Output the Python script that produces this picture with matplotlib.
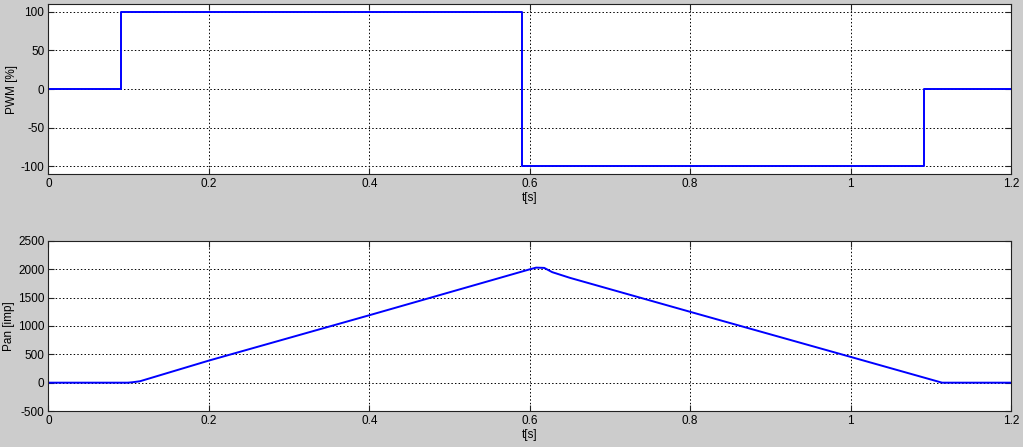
import numpy as np
import matplotlib.pyplot as plt

# PWM signal (step breakpoints)
t_pwm = [0.0, 0.09, 0.09, 0.59, 0.59, 1.092, 1.092, 1.2]
pwm = [0, 0, 100, 100, -100, -100, 0, 0]

# encoder position (breakpoints)
t_pan = [0.0, 0.099, 0.105, 0.114, 0.2, 0.4, 0.6, 0.608, 0.618, 0.628, 0.65, 0.8, 1.0, 1.114, 1.2]
pan = [0, 0, 8, 25, 390, 1190, 2000, 2030, 2025, 1950, 1850, 1250, 455, 0, 0]

plt.rcParams['font.family'] = ['Liberation Sans', 'DejaVu Sans']
plt.rcParams['font.size'] = 8.5
plt.rcParams['axes.unicode_minus'] = False

fig = plt.figure(figsize=(10.23, 4.47), dpi=100, facecolor='#cccccc')
ax1 = fig.add_axes([0.0474, 0.6107, 0.9409, 0.3803])
ax2 = fig.add_axes([0.0474, 0.0805, 0.9409, 0.3804])

def style(ax):
    ax.set_facecolor('white')
    ax.set_xlim(0, 1.2)
    ax.set_xticks([0, 0.2, 0.4, 0.6, 0.8, 1.0, 1.2])
    ax.set_xticklabels(['0', '0.2', '0.4', '0.6', '0.8', '1', '1.2'])
    ax.grid(True, color='black', linestyle=(0, (1.5, 2.2)), linewidth=0.7)
    ax.tick_params(direction='in', top=True, right=True, length=4, width=0.8,
                   colors='#222222', labelcolor='black', pad=3)
    for s in ax.spines.values():
        s.set_color('#222222')
        s.set_linewidth(0.8)
    ax.set_xlabel('t[s]', labelpad=1)

ax1.plot(t_pwm, pwm, color='#0000ff', linewidth=1.4)
style(ax1)
ax1.set_ylim(-110, 110)
ax1.set_yticks([-100, -50, 0, 50, 100])
ax1.set_ylabel('PWM [%]', labelpad=2)

ax2.plot(t_pan, pan, color='#0000ff', linewidth=1.4)
style(ax2)
ax2.set_ylim(-500, 2500)
ax2.set_yticks([-500, 0, 500, 1000, 1500, 2000, 2500])
ax2.set_ylabel('Pan [imp]', labelpad=2)

fig.savefig('out.png', dpi=100, facecolor=fig.get_facecolor())
